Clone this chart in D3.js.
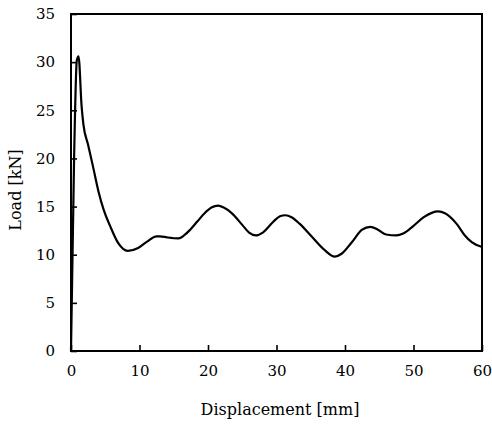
<!DOCTYPE html>
<html>
<head>
<meta charset="utf-8">
<script src="https://cdn.jsdelivr.net/npm/d3@7"></script>
<style>
  html, body { margin: 0; padding: 0; background: #fff; }
  svg { display: block; }
  text { font-family: "DejaVu Serif", "Liberation Serif", serif; fill: #000; }
</style>
</head>
<body>
<svg id="chart" width="492" height="425"></svg>
<script>
// Load–displacement record of the crushing test
const displacement = [0, 0.45, 0.85, 1.1, 1.55, 1.8, 2.5, 3.2, 4.0, 4.8, 5.7, 6.9, 8.3, 9.8, 11.0, 12.5, 13.0, 14.0, 15.7, 16.5, 17.4, 18.5, 19.5, 20.5, 21.5, 22.3, 23.5, 25.0, 26.0, 27.0, 28.0, 29.5, 30.5, 31.3, 32.2, 33.4, 35.0, 37.0, 38.5, 39.5, 41.0, 42.5, 43.7, 44.8, 46.0, 47.5, 48.5, 50.0, 51.5, 53.6, 54.6, 56.3, 57.5, 58.5, 60.0];
const load = [0, 20.0, 30.2, 30.6, 25.4, 23.6, 21.4, 19.2, 16.6, 14.6, 13.0, 11.2, 10.4, 10.7, 11.3, 11.9, 11.9, 11.8, 11.7, 12.0, 12.6, 13.5, 14.3, 14.9, 15.1, 14.9, 14.3, 13.1, 12.3, 12.0, 12.3, 13.4, 14.0, 14.1, 13.9, 13.2, 12.0, 10.5, 9.8, 10.1, 11.3, 12.6, 12.9, 12.6, 12.1, 12.0, 12.2, 13.0, 13.9, 14.5, 14.3, 13.2, 12.0, 11.3, 10.8];

const xTicks = [0, 10, 20, 30, 40, 50, 60];
const yTicks = [0, 5, 10, 15, 20, 25, 30, 35];
const xTitle = "Displacement [mm]";
const yTitle = "Load [kN]";

const svg = d3.select("#chart");
const plotL = 71, plotR = 482, plotT = 14, plotB = 351;

const x = d3.scaleLinear().domain([0, 60]).range([plotL, plotR]);
const y = d3.scaleLinear().domain([0, 35]).range([plotB, plotT]);

// Frame
svg.append("rect")
  .attr("x", plotL).attr("y", plotT)
  .attr("width", plotR - plotL).attr("height", plotB - plotT)
  .attr("fill", "none").attr("stroke", "#000").attr("stroke-width", 2);

// Axes with inward ticks
const xAxis = svg.append("g")
  .attr("transform", `translate(0,${plotB})`)
  .call(d3.axisBottom(x).tickValues(xTicks).tickSize(-6).tickPadding(14).tickFormat(d3.format("d")));
xAxis.select(".domain").remove();
xAxis.selectAll(".tick line").attr("stroke", "#000").attr("stroke-width", 1.6);
xAxis.selectAll(".tick text").style("font-size", "15px").attr("fill", "#000");

const yAxis = svg.append("g")
  .attr("transform", `translate(${plotL},0)`)
  .call(d3.axisLeft(y).tickValues(yTicks).tickSize(-6).tickPadding(16).tickFormat(d3.format("d")));
yAxis.select(".domain").remove();
yAxis.selectAll(".tick line").attr("stroke", "#000").attr("stroke-width", 1.6);
yAxis.selectAll(".tick text").style("font-size", "15px").attr("fill", "#000");

// Axis titles
svg.append("text")
  .attr("x", 280).attr("y", 415)
  .attr("text-anchor", "middle")
  .style("font-size", "16px")
  .text(xTitle);

svg.append("text")
  .attr("transform", "translate(21,190) rotate(-90)")
  .attr("text-anchor", "middle")
  .style("font-size", "16px")
  .text(yTitle);

// Load curve
const pts = displacement.map((d, i) => [d, load[i]]);
const line = d3.line()
  .x(d => x(d[0]))
  .y(d => y(d[1]))
  .curve(d3.curveMonotoneX);

svg.append("path")
  .datum(pts)
  .attr("d", line)
  .attr("fill", "none")
  .attr("stroke", "#000")
  .attr("stroke-width", 2.2)
  .attr("stroke-linejoin", "round");
</script>
</body>
</html>
